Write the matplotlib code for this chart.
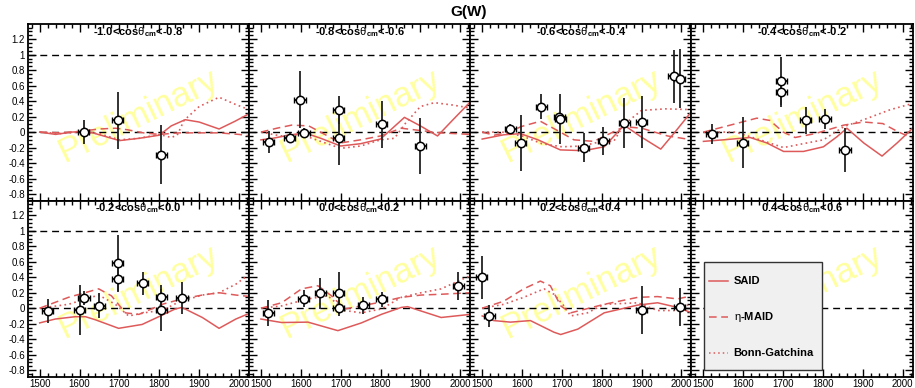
import matplotlib
matplotlib.use('Agg')
import matplotlib.pyplot as plt
from matplotlib.ticker import MultipleLocator, FuncFormatter
from matplotlib.patches import Rectangle
from matplotlib.lines import Line2D

plt.rcParams['font.family'] = ['Liberation Sans', 'DejaVu Sans']
plt.rcParams['mathtext.fontset'] = 'custom'
plt.rcParams['mathtext.rm'] = 'Liberation Sans'
plt.rcParams['mathtext.it'] = 'Liberation Sans:italic'
plt.rcParams['mathtext.bf'] = 'Liberation Sans:bold'
plt.rcParams['axes.unicode_minus'] = False

# ---------------- data ----------------
COS_LO = ["-1.0", "-0.8", "-0.6", "-0.4", "-0.2", "0.0", "0.2", "0.4"]
COS_HI = ["-0.8", "-0.6", "-0.4", "-0.2", "0.0", "0.2", "0.4", "0.6"]
XERR = 14  # half bin width in W (MeV)

# Panel 1: -1.0 < cos < -0.8
W1 = [1610, 1696, 1805]
G1 = [0.00, 0.15, -0.29]
E1 = [0.15, 0.37, 0.38]
SAID1_W = [1500, 1540, 1580, 1620, 1660, 1700, 1750, 1800, 1830, 1865, 1900, 1950, 1990, 2030]
SAID1_G = [0.00, -0.03, 0.00, 0.01, -0.05, -0.11, -0.08, -0.04, 0.08, 0.16, 0.13, 0.04, 0.14, 0.25]
MAID1_W = [1500, 1550, 1600, 1650, 1690, 1720, 1760, 1800, 1850, 1900, 1950, 2000, 2030]
MAID1_G = [0.00, -0.01, 0.01, 0.04, 0.05, 0.03, -0.01, -0.03, -0.01, -0.01, -0.01, -0.03, -0.05]
BG1_W = [1500, 1550, 1600, 1650, 1700, 1750, 1800, 1830, 1845, 1862, 1900, 1950, 1990, 2030]
BG1_G = [0.00, -0.02, 0.00, -0.02, -0.10, -0.08, -0.03, -0.07, -0.04, 0.15, 0.33, 0.45, 0.36, 0.28]

# Panel 2: -0.8 < cos < -0.6
W2 = [1520, 1572, 1598, 1608, 1695, 1695, 1803, 1900]
G2 = [-0.13, -0.07, 0.42, -0.01, 0.28, -0.07, 0.10, -0.18]
E2 = [0.14, 0.06, 0.37, 0.06, 0.18, 0.35, 0.30, 0.36]
SAID2_W = [1500, 1530, 1570, 1610, 1650, 1700, 1750, 1800, 1830, 1860, 1900, 1943, 1980, 2027]
SAID2_G = [-0.10, -0.08, -0.04, -0.01, -0.08, -0.18, -0.15, -0.09, 0.05, 0.19, 0.08, -0.05, 0.15, 0.40]
MAID2_W = [1500, 1540, 1577, 1620, 1660, 1700, 1750, 1800, 1852, 1900, 1950, 2027]
MAID2_G = [0.00, 0.05, 0.09, 0.08, -0.03, -0.14, -0.10, -0.05, 0.05, 0.02, -0.01, -0.03]
BG2_W = [1500, 1550, 1600, 1650, 1700, 1750, 1800, 1835, 1862, 1900, 1935, 1980, 2027]
BG2_G = [0.00, -0.05, -0.03, -0.12, -0.21, -0.18, -0.10, -0.08, 0.11, 0.33, 0.38, 0.35, 0.31]

# Panel 3: -0.6 < cos < -0.4
W3 = [1571, 1597, 1648, 1693, 1696, 1755, 1804, 1856, 1900, 1980, 1995]
G3 = [0.04, -0.14, 0.33, 0.20, 0.17, -0.20, -0.11, 0.12, 0.13, 0.72, 0.69]
E3 = [0.06, 0.36, 0.16, 0.05, 0.32, 0.19, 0.18, 0.32, 0.33, 0.34, 0.38]
SAID3_W = [1500, 1554, 1596, 1640, 1696, 1755, 1806, 1856, 1898, 1948, 1982, 2026]
SAID3_G = [-0.09, -0.035, -0.02, -0.10, -0.23, -0.24, -0.19, 0.09, -0.06, -0.22, -0.01, 0.27]
MAID3_W = [1500, 1530, 1570, 1597, 1646, 1696, 1730, 1780, 1856, 1900, 1965, 2026]
MAID3_G = [0.00, -0.04, 0.00, 0.07, 0.14, 0.00, -0.10, -0.12, 0.07, 0.05, -0.05, -0.10]
BG3_W = [1500, 1550, 1600, 1650, 1700, 1750, 1800, 1830, 1856, 1900, 1960, 2026]
BG3_G = [0.00, 0.00, -0.05, -0.15, -0.19, -0.18, -0.12, -0.12, 0.10, 0.28, 0.30, 0.29]

# Panel 4: -0.4 < cos < -0.2
W4 = [1521, 1599, 1695, 1695, 1757, 1805, 1855]
G4 = [-0.03, -0.14, 0.66, 0.52, 0.15, 0.17, -0.23]
E4 = [0.13, 0.33, 0.31, 0.20, 0.17, 0.13, 0.28]
SAID4_W = [1500, 1550, 1617, 1659, 1701, 1751, 1801, 1835, 1860, 1902, 1948, 1986, 2025]
SAID4_G = [-0.12, -0.10, -0.07, -0.14, -0.25, -0.25, -0.19, -0.06, 0.05, -0.14, -0.31, -0.14, 0.05]
MAID4_W = [1500, 1560, 1634, 1667, 1700, 1730, 1780, 1852, 1902, 1950, 1986, 2025]
MAID4_G = [0.00, 0.08, 0.18, 0.15, 0.00, -0.07, -0.02, 0.09, 0.13, 0.11, 0.01, -0.08]
BG4_W = [1500, 1580, 1630, 1701, 1750, 1801, 1852, 1902, 1969, 2025]
BG4_G = [0.00, 0.00, -0.08, -0.20, -0.15, -0.10, 0.07, 0.16, 0.29, 0.37]

# Panel 5: -0.2 < cos < 0.0
W5 = [1520, 1600, 1611, 1650, 1696, 1696, 1758, 1805, 1805, 1857]
G5 = [-0.03, -0.02, 0.13, 0.03, 0.58, 0.38, 0.32, 0.15, -0.02, 0.13]
E5 = [0.155, 0.32, 0.09, 0.16, 0.36, 0.17, 0.15, 0.15, 0.27, 0.21]
SAID5_W = [1500, 1539, 1589, 1615, 1640, 1698, 1757, 1807, 1840, 1857, 1908, 1950, 1992, 2029]
SAID5_G = [-0.19, -0.14, -0.11, -0.11, -0.15, -0.26, -0.21, -0.09, -0.01, 0.01, -0.12, -0.26, -0.14, -0.06]
MAID5_W = [1500, 1572, 1648, 1680, 1715, 1749, 1807, 1857, 1908, 1950, 1992, 2029]
MAID5_G = [0.00, 0.14, 0.25, 0.16, -0.06, -0.08, 0.05, 0.12, 0.17, 0.20, 0.17, 0.15]
BG5_W = [1500, 1572, 1648, 1690, 1723, 1773, 1807, 1849, 1908, 1950, 1992, 2029]
BG5_G = [0.00, 0.05, 0.17, 0.05, -0.10, -0.05, -0.03, 0.08, 0.17, 0.20, 0.31, 0.45]

# Panel 6: 0.0 < cos < 0.2
W6 = [1518, 1607, 1649, 1695, 1695, 1757, 1803, 1995]
G6 = [-0.06, 0.12, 0.19, 0.20, 0.00, 0.04, 0.115, 0.29]
E6 = [0.165, 0.11, 0.20, 0.27, 0.10, 0.11, 0.10, 0.18]
SAID6_W = [1500, 1552, 1618, 1693, 1752, 1802, 1852, 1868, 1952, 2025]
SAID6_G = [-0.14, -0.185, -0.18, -0.29, -0.19, -0.08, 0.01, 0.02, -0.12, -0.08]
MAID6_W = [1500, 1552, 1602, 1643, 1677, 1710, 1752, 1802, 1852, 1902, 1952, 2025]
MAID6_G = [0.00, 0.07, 0.25, 0.29, 0.16, -0.01, 0.03, 0.08, 0.14, 0.17, 0.18, 0.20]
BG6_W = [1500, 1552, 1618, 1668, 1710, 1752, 1802, 1852, 1902, 1952, 2025]
BG6_G = [0.00, 0.03, 0.12, 0.16, -0.03, -0.06, -0.01, 0.14, 0.20, 0.25, 0.42]

# Panel 7: 0.2 < cos < 0.4
W7 = [1499, 1518, 1900, 1995]
G7 = [0.40, -0.10, -0.02, 0.02]
E7 = [0.28, 0.14, 0.31, 0.245]
SAID7_W = [1500, 1529, 1571, 1621, 1680, 1697, 1740, 1806, 1890, 1940, 1990, 2026]
SAID7_G = [-0.10, -0.16, -0.18, -0.16, -0.31, -0.34, -0.27, -0.06, 0.04, 0.07, 0.01, -0.06]
MAID7_W = [1500, 1554, 1604, 1646, 1671, 1697, 1722, 1806, 1890, 1940, 1990, 2026]
MAID7_G = [0.00, 0.09, 0.25, 0.35, 0.29, 0.03, -0.06, 0.05, 0.14, 0.15, 0.12, 0.16]
BG7_W = [1500, 1554, 1604, 1655, 1680, 1705, 1722, 1764, 1806, 1890, 1940, 1990, 2026]
BG7_G = [0.00, 0.05, 0.14, 0.25, 0.18, 0.03, -0.10, -0.06, 0.05, 0.07, -0.03, -0.03, 0.07]

# Panel 8: 0.4 < cos < 0.6 (no data, legend only)
W8, G8, E8 = [], [], []

DATA = [(W1, G1, E1), (W2, G2, E2), (W3, G3, E3), (W4, G4, E4),
        (W5, G5, E5), (W6, G6, E6), (W7, G7, E7), (W8, G8, E8)]
SAID = [(SAID1_W, SAID1_G), (SAID2_W, SAID2_G), (SAID3_W, SAID3_G), (SAID4_W, SAID4_G),
        (SAID5_W, SAID5_G), (SAID6_W, SAID6_G), (SAID7_W, SAID7_G), None]
MAID = [(MAID1_W, MAID1_G), (MAID2_W, MAID2_G), (MAID3_W, MAID3_G), (MAID4_W, MAID4_G),
        (MAID5_W, MAID5_G), (MAID6_W, MAID6_G), (MAID7_W, MAID7_G), None]
BG = [(BG1_W, BG1_G), (BG2_W, BG2_G), (BG3_W, BG3_G), (BG4_W, BG4_G),
      (BG5_W, BG5_G), (BG6_W, BG6_G), (BG7_W, BG7_G), None]

LEGEND_LABELS = ["SAID", r"$\mathrm{\eta}$-MAID", "Bonn-Gatchina"]

# ---------------- style ----------------
RED = '#de5a5a'
WM_COLOR = '#ffffa0'
XLIM = (1470, 2025)
YLIM = (-0.885, 1.39)

fig = plt.figure(figsize=(9.15, 3.88), dpi=100)
gs = fig.add_gridspec(2, 4, left=0.0303, right=0.9975, top=0.9369, bottom=0.0291,
                      wspace=0, hspace=0)

def yfmt(v, pos):
    return '%g' % round(v, 2)

for i in range(8):
    r, c = divmod(i, 4)
    ax = fig.add_subplot(gs[r, c])
    ax.set_xlim(*XLIM)
    ax.set_ylim(*YLIM)

    # watermark
    ax.text(0.5, 0.48, "Preliminary", transform=ax.transAxes, rotation=26,
            ha='center', va='center', fontsize=25, color=WM_COLOR, zorder=0)

    ax.axhline(1, color='black', lw=1.0, ls=(0, (5, 3.5)), zorder=1)
    ax.axhline(0, color='black', lw=1.0, ls=(0, (5, 3.5)), zorder=1)

    if SAID[i] is not None:
        ax.plot(*SAID[i], color=RED, lw=1.1, ls='-', zorder=2)
        ax.plot(*MAID[i], color=RED, lw=1.1, ls=(0, (5, 3)), zorder=2)
        ax.plot(*BG[i], color=RED, lw=1.2, ls=(0, (1, 2)), zorder=2)

    W, G, E = DATA[i]
    if W:
        ax.errorbar(W, G, xerr=XERR, fmt='none', ecolor='black', elinewidth=1.3,
                    capsize=2, capthick=1.0, zorder=3)
        ax.errorbar(W, G, yerr=E, fmt='none', ecolor='#222222', elinewidth=1.3,
                    capsize=0, zorder=3)
        ax.plot(W, G, 'o', ms=6, mfc='white', mec='black', mew=1.1, zorder=4)

    ax.text(0.5, 0.955, COS_LO[i] + r"<cos$\mathrm{\theta}_{\mathbf{cm}}$<" + COS_HI[i],
            transform=ax.transAxes, ha='center', va='center', fontsize=8,
            fontweight='bold', zorder=5)

    ax.xaxis.set_major_locator(MultipleLocator(100))
    ax.xaxis.set_minor_locator(MultipleLocator(20))
    ax.yaxis.set_major_locator(MultipleLocator(0.2))
    ax.yaxis.set_minor_locator(MultipleLocator(0.05))
    ax.tick_params(which='both', direction='in', top=True, right=True,
                   labelsize=7, width=1.0, pad=2)
    ax.tick_params(which='major', length=6)
    ax.tick_params(which='minor', length=3)
    ax.yaxis.set_major_formatter(FuncFormatter(yfmt))
    if c != 0:
        ax.tick_params(labelleft=False)
    if r == 0:
        ax.tick_params(labelbottom=False)
    for sp in ax.spines.values():
        sp.set_linewidth(1.3)

    if i == 7:
        ax.add_patch(Rectangle((0.055, 0.038), 0.535, 0.615, transform=ax.transAxes,
                               facecolor='#f0f0f0', edgecolor='#333333', lw=1.0, zorder=6))
        ys = [0.545, 0.341, 0.133]
        styles = ['-', (0, (5, 3)), (0, (1, 2))]
        for y, st, lab in zip(ys, styles, LEGEND_LABELS):
            ax.add_line(Line2D([0.077, 0.167], [y, y], transform=ax.transAxes,
                               color=RED, lw=1.1, ls=st, zorder=7))
            ax.text(0.19, y, lab, transform=ax.transAxes, ha='left', va='center',
                    fontsize=8, fontweight='bold', zorder=7)

fig.text(0.5126, 0.969, "G(W)", ha='center', va='center', fontsize=11, fontweight='bold')

fig.savefig('out.png', dpi=100)
